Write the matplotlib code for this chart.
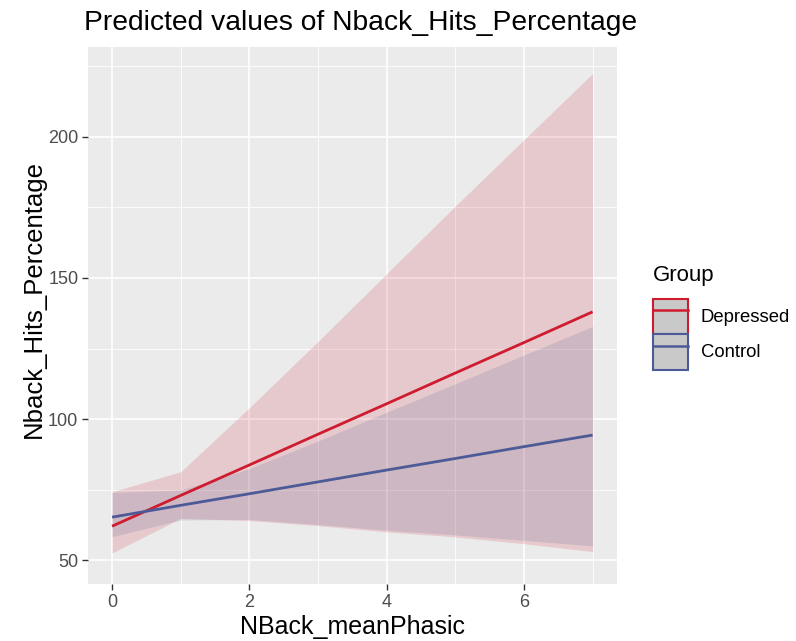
import matplotlib
matplotlib.use("Agg")
import matplotlib.pyplot as plt
from matplotlib.patches import Patch
from matplotlib.lines import Line2D

plt.rcParams['font.family'] = ['Liberation Sans', 'DejaVu Sans']

# predicted values
x = [0, 1, 2, 3, 4, 5, 6, 7]

dep_fit = [62.0, 72.9, 83.7, 94.6, 105.4, 116.3, 127.1, 138.0]
dep_low = [52.5, 64.8, 64.0, 62.2, 60.0, 58.2, 55.8, 53.0]
dep_high = [74.2, 81.3, 104.0, 127.5, 151.5, 175.5, 199.0, 222.5]

ctl_fit = [65.2, 69.4, 73.5, 77.7, 81.9, 86.0, 90.2, 94.3]
ctl_low = [58.3, 64.2, 64.4, 62.6, 60.6, 58.9, 57.0, 55.0]
ctl_high = [74.0, 74.8, 82.4, 92.2, 102.4, 112.5, 122.7, 132.8]

groups = ['Depressed', 'Control']
red = '#CF1B2F'
blue = '#4C5B97'

fig = plt.figure(figsize=(7.96, 6.41), dpi=100)
ax = fig.add_axes([0.1106, 0.0889, 0.664, 0.8378])
ax.set_facecolor('#EBEBEB')

# grid
for v in [1, 3, 5, 7]:
    ax.axvline(v, color='white', lw=0.6, zorder=0)
for v in [75, 125, 175, 225]:
    ax.axhline(v, color='white', lw=0.6, zorder=0)
ax.grid(True, color='white', lw=1.2, zorder=0)
ax.set_axisbelow(True)

ax.fill_between(x, dep_low, dep_high, color=red, alpha=0.16, lw=0, zorder=1)
ax.fill_between(x, ctl_low, ctl_high, color=blue, alpha=0.16, lw=0, zorder=1)
ax.plot(x, dep_fit, color=red, lw=2, zorder=3, solid_capstyle='butt')
ax.plot(x, ctl_fit, color=blue, lw=2, zorder=3, solid_capstyle='butt')

ax.set_xlim(-0.35, 7.35)
ax.set_ylim(41.5, 231.9)
ax.set_xticks([0, 2, 4, 6])
ax.set_yticks([50, 100, 150, 200])
for s in ax.spines.values():
    s.set_visible(False)
ax.tick_params(axis='both', length=4, width=1, color='#333333',
               labelcolor='#4D4D4D', labelsize=13, pad=3)

ax.set_xlabel('NBack_meanPhasic', fontsize=18, labelpad=3)
ax.set_ylabel('Nback_Hits_Percentage', fontsize=18.5, va='center')
ax.yaxis.set_label_coords(-0.103, 0.53)
ax.set_title('Predicted values of Nback_Hits_Percentage', fontsize=20.3,
             loc='left', x=-0.008, pad=12)

handles = [
    (Patch(facecolor='#C9C9C9', edgecolor=red, lw=1.5),
     Line2D([], [], color=red, lw=1.8)),
    (Patch(facecolor='#C9C9C9', edgecolor=blue, lw=1.5),
     Line2D([], [], color=blue, lw=1.8)),
]
leg = fig.legend(handles, groups, title='Group', loc='center left',
                 bbox_to_anchor=(0.811, 0.505), frameon=False,
                 fontsize=13.3, title_fontsize=16, handlelength=1.9,
                 handleheight=2.58, handletextpad=0.7, labelspacing=0.0,
                 borderaxespad=0)
leg._legend_box.align = 'left'
leg._legend_box.sep = 9

fig.savefig('out.png', dpi=100)
